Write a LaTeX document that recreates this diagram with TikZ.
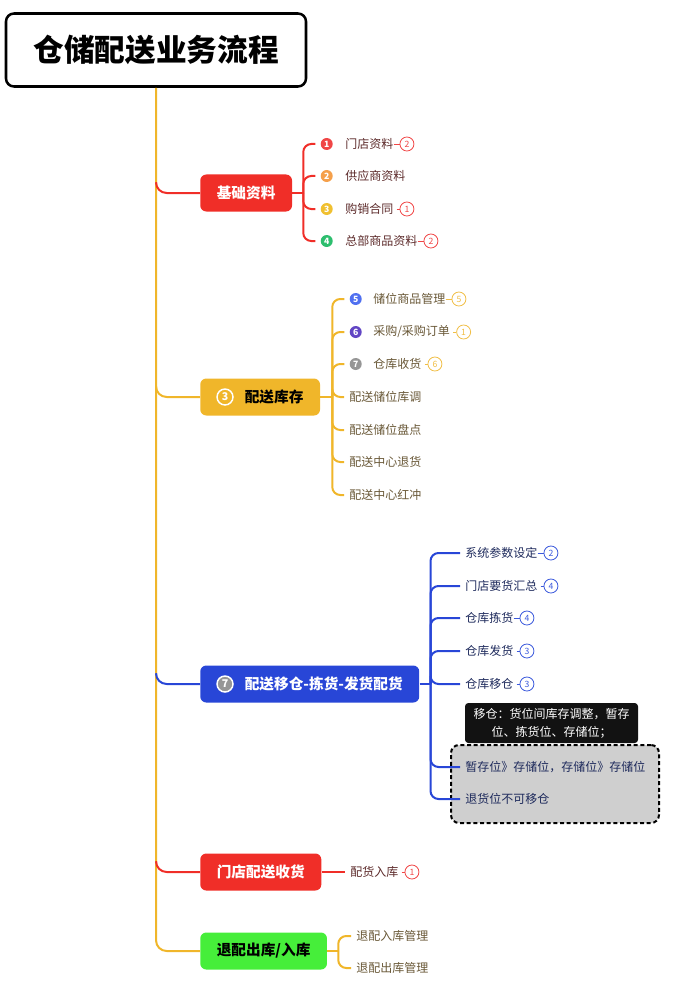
\documentclass[tikz,border=0pt]{standalone}
\usepackage{fontspec}
\setmainfont{Noto Sans CJK SC}
\usetikzlibrary{positioning}

\definecolor{redc}{RGB}{240,46,40}
\definecolor{yelc}{RGB}{240,182,42}
\definecolor{bluec}{RGB}{40,70,215}
\definecolor{greenc}{RGB}{70,238,58}
\definecolor{redtext}{RGB}{92,42,42}
\definecolor{yeltext}{RGB}{105,88,55}
\definecolor{bluetext}{RGB}{30,42,92}
\definecolor{redbadge}{RGB}{240,70,70}
\definecolor{yelbadge}{RGB}{240,190,70}
\definecolor{bluebadge}{RGB}{60,90,220}
\definecolor{dot1}{RGB}{240,70,70}
\definecolor{dot2}{RGB}{245,160,75}
\definecolor{dot3}{RGB}{240,192,48}
\definecolor{dot4}{RGB}{45,190,110}
\definecolor{dot5}{RGB}{80,112,240}
\definecolor{dot6}{RGB}{98,70,196}
\definecolor{dot7}{RGB}{150,150,150}
\definecolor{grpfill}{RGB}{207,207,207}

\tikzset{
x=0.75pt, y=-0.75pt, % one unit is one pixel of the reference
title/.style={draw, line width=1.9pt, rounded corners=6pt, fill=white, minimum width=225pt, minimum height=54.75pt, font=\bfseries\fontsize{23}{27}\selectfont},
topic/.style={rectangle, rounded corners=4.5pt, anchor=west, minimum height=27.75pt, inner xsep=12.4pt, inner ysep=0pt, font=\bfseries\fontsize{11}{13}\selectfont},
leaf/.style={inner sep=0pt, anchor=west, font=\fontsize{9}{11}\selectfont},
numdot/.style={circle, inner sep=0pt, minimum size=9pt, text=white, font=\bfseries\fontsize{6.5}{6.5}\selectfont},
numring/.style={circle, draw=white, line width=1.1pt, inner sep=0pt, minimum size=12pt, text=white, font=\bfseries\fontsize{8}{8}\selectfont},
badge/.style={circle, draw, inner sep=0pt, minimum size=10.5pt, line width=0.6pt, font=\fontsize{6.5}{6.5}\selectfont, right=4.5pt of #1},
tick/.style={line width=0.6pt, shorten <=2.25pt}, % short tick before a badge
link/.style={line width=1.5pt},
elbow/.style={to path={|- (\tikztotarget)}, rounded corners=6pt, shorten >=3.75pt},
note/.style={fill={rgb,255:red,18;green,18;blue,18}, text=white, rounded corners=2.5pt, minimum width=129.75pt, minimum height=30pt, align=center, font=\fontsize{9}{13.5}\selectfont},
grp/.style={draw, fill=grpfill, dash pattern=on 3pt off 2pt, line width=1.5pt, rounded corners=6pt, minimum width=156pt, minimum height=58.5pt},
}

\begin{document}
\begin{tikzpicture}
    \useasboundingbox (0,0) rectangle (673,988);

    \node[title] (title) at (156,50) {仓储配送业务流程};

    % main topics
    \node[topic, fill=redc, text=white] (jc) at (200,193) {基础资料};
    \node[topic, fill=yelc, text=black] (kc) at (200,397) {\hspace*{21pt}配送库存};
    \node[topic, fill=bluec, text=white] (yc) at (200,684) {\hspace*{21pt}配送移仓-拣货-发货配货};
    \node[topic, fill=redc, text=white] (sh) at (200,872) {门店配送收货};
    \node[topic, fill=greenc, text=black] (tp) at (200,951) {退配出库/入库};
    \node[numring] (r3) at ([xshift=18.75pt]kc.west) {3};
    \node[numring, fill=dot7] (r7) at ([xshift=18.75pt]yc.west) {7};

    % 基础资料
    \node[leaf, text=redtext] (d1) at (345,144) {门店资料};
    \node[leaf, text=redtext] (d2) at (345,176) {供应商资料};
    \node[leaf, text=redtext] (d3) at (345,209) {购销合同};
    \node[leaf, text=redtext] (d4) at (345,241) {总部商品资料};
    \node[numdot, fill=dot1, left=9pt of d1] (m1) {1};
    \node[numdot, fill=dot2, left=9pt of d2] (m2) {2};
    \node[numdot, fill=dot3, left=9pt of d3] (m3) {3};
    \node[numdot, fill=dot4, left=9pt of d4] (m4) {4};
    \node[badge=d1, redbadge] (bd1) {2};
    \node[badge=d3, redbadge] (bd3) {1};
    \node[badge=d4, redbadge] (bd4) {2};

    % 配送库存
    \node[leaf, text=yeltext] (k1) at (373,299) {储位商品管理};
    \node[leaf, text=yeltext] (k2) at (373,332) {采购/采购订单};
    \node[leaf, text=yeltext] (k3) at (373,364) {仓库收货};
    \node[leaf, text=yeltext] (k4) at (349,397) {配送储位库调};
    \node[leaf, text=yeltext] (k5) at (349,430) {配送储位盘点};
    \node[leaf, text=yeltext] (k6) at (349,462) {配送中心退货};
    \node[leaf, text=yeltext] (k7) at (349,495) {配送中心红冲};
    \node[numdot, fill=dot5, left=8.25pt of k1] (m5) {5};
    \node[numdot, fill=dot6, left=8.25pt of k2] (m6) {6};
    \node[numdot, fill=dot7, left=8.25pt of k3] (m7) {7};
    \node[badge=k1, yelbadge] (bk1) {5};
    \node[badge=k2, yelbadge] (bk2) {1};
    \node[badge=k3, yelbadge] (bk3) {6};

    % 配送移仓
    \node[note] (note) at (551.5,723) {移仓：货位间库存调整，暂存\\位、拣货位、存储位；};
    \node[grp] (grp) at (555,784) {};
    \node[leaf, text=bluetext] (y1) at (465,553) {系统参数设定};
    \node[leaf, text=bluetext] (y2) at (465,586) {门店要货汇总};
    \node[leaf, text=bluetext] (y3) at (465,618) {仓库拣货};
    \node[leaf, text=bluetext] (y4) at (465,651) {仓库发货};
    \node[leaf, text=bluetext] (y5) at (465,684) {仓库移仓};
    \node[leaf, text=bluetext] (y6) at (465,767) {暂存位》存储位，存储位》存储位};
    \node[leaf, text=bluetext] (y7) at (465,799) {退货位不可移仓};
    \node[badge=y1, bluebadge] (by1) {2};
    \node[badge=y2, bluebadge] (by2) {4};
    \node[badge=y3, bluebadge] (by3) {4};
    \node[badge=y4, bluebadge] (by4) {3};
    \node[badge=y5, bluebadge] (by5) {3};

    % 门店配送收货 and 退配
    \node[leaf, text=redtext] (s1) at (350,872) {配货入库};
    \node[badge=s1, redbadge] (bs1) {1};
    \node[leaf, text=yeltext] (g1) at (356,936) {退配入库管理};
    \node[leaf, text=yeltext] (g2) at (356,968) {退配出库管理};

    % junctions of the brackets
    \coordinate[right=8.25pt of jc] (jcr);
    \coordinate[right=9pt of kc] (kcr);
    \coordinate[right=8.25pt of yc] (ycr);
    \coordinate[right=8.25pt of tp] (tpr);

    % trunk and branches
    \draw[link, yelc, rounded corners=8pt] (title.south) |- (tp.west);
    \draw[link, redc, rounded corners=8pt] (title.south |- jc.west) ++(0,-10) |- (jc.west);
    \draw[link, yelc, rounded corners=8pt] (title.south |- kc.west) ++(0,-10) |- (kc.west);
    \draw[link, bluec, rounded corners=8pt] (title.south |- yc.west) ++(0,-10) |- (yc.west);
    \draw[link, redc, rounded corners=8pt] (title.south |- sh.west) ++(0,-10) |- (sh.west);

    \draw[link, redc] (jc.east) -- (jcr)
      edge[elbow] (m1.west) edge[elbow] (m2.west)
      edge[elbow] (m3.west) edge[elbow] (m4.west);
    \draw[link, yelc] (kc.east) -- (kcr)
      edge[elbow] (m5.west) edge[elbow] (m6.west) edge[elbow] (m7.west)
      edge[elbow] (k4.west) edge[elbow] (k5.west)
      edge[elbow] (k6.west) edge[elbow] (k7.west);
    \draw[link, bluec] (yc.east) -- (ycr)
      edge[elbow] (y1.west) edge[elbow] (y2.west) edge[elbow] (y3.west)
      edge[elbow] (y4.west) edge[elbow] (y5.west)
      edge[elbow] (y6.west) edge[elbow] (y7.west);
    \draw[link, redc, shorten >=3.75pt] (sh.east) -- (s1.west);
    \draw[link, yelc] (tp.east) -- (tpr)
      edge[elbow] (g1.west) edge[elbow] (g2.west);

    % ticks before the badges
    \draw[tick, redbadge] (d1.east) -- (bd1.west) (d3.east) -- (bd3.west);
    \draw[tick, redbadge] (d4.east) -- (bd4.west) (s1.east) -- (bs1.west);
    \draw[tick, yelbadge] (k1.east) -- (bk1.west) (k2.east) -- (bk2.west);
    \draw[tick, yelbadge] (k3.east) -- (bk3.west);
    \draw[tick, bluebadge] (y1.east) -- (by1.west) (y2.east) -- (by2.west);
    \draw[tick, bluebadge] (y3.east) -- (by3.west) (y4.east) -- (by4.west);
    \draw[tick, bluebadge] (y5.east) -- (by5.west);
\end{tikzpicture}
\end{document}
